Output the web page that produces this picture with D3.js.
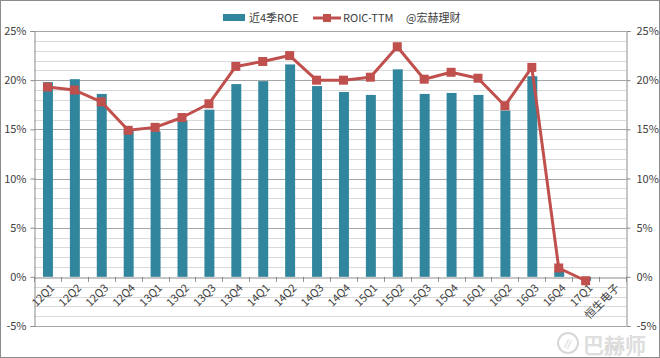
<!DOCTYPE html>
<html><head><meta charset="utf-8">
<script src="https://cdn.jsdelivr.net/npm/d3@7"></script>
<style>body{margin:0;background:#fff}svg{display:block}</style>
</head><body>
<svg id="c" width="660" height="358"></svg>
<script>
const categories = ["12Q1","12Q2","12Q3","12Q4","13Q1","13Q2","13Q3","13Q4","14Q1","14Q2","14Q3","14Q4","15Q1","15Q2","15Q3","15Q4","16Q1","16Q2","16Q3","16Q4","17Q1","恒生电子"];
const roe  = [19.8,20.1,18.6,15.0,14.8,15.9,17.0,19.6,19.9,21.6,19.4,18.8,18.5,21.1,18.6,18.7,18.5,16.9,20.4,0.6,-0.4,null];
const roic = [19.3,19.0,17.8,14.9,15.2,16.2,17.6,21.4,21.9,22.5,20.0,20.0,20.3,23.4,20.1,20.8,20.2,17.4,21.3,0.9,-0.4,null];
const yTicks = [-5,0,5,10,15,20,25];
const legendLabels = ["近4季ROE","ROIC-TTM","@宏赫理财"];

const FONT = "'Noto Sans CJK SC','Noto Sans',sans-serif";
const svg = d3.select("#c");
const L = 34, R = 626, T = 31, B = 326;
const x = d3.scaleBand().domain(categories).range([L, R]).padding(0);
const y = d3.scaleLinear().domain([-5, 25]).range([B, T]);

svg.append("rect").attr("x",0.5).attr("y",0.5).attr("width",659).attr("height",357)
  .attr("fill","#fff").attr("stroke","#8c8c8c");

// minor gridlines
const minor = d3.range(-5, 26, 1).filter(v => v % 5 !== 0);
svg.append("g").selectAll("line").data(minor).join("line")
  .attr("x1",L).attr("x2",R).attr("y1",d=>Math.round(y(d))+0.5).attr("y2",d=>Math.round(y(d))+0.5)
  .attr("stroke","#d9d9d9");
// major gridlines
svg.append("g").selectAll("line").data(yTicks.filter(v=>v!==0)).join("line")
  .attr("x1",L).attr("x2",R).attr("y1",d=>Math.round(y(d))+0.5).attr("y2",d=>Math.round(y(d))+0.5)
  .attr("stroke","#a6a6a6");

// left/right axes
const fmt = d => d + "%";
const la = svg.append("g").attr("transform",`translate(${L+0.5},0)`)
  .call(d3.axisLeft(y).tickValues(yTicks).tickFormat(fmt).tickSize(4).tickPadding(4));
const ra = svg.append("g").attr("transform",`translate(${R+0.5},0)`)
  .call(d3.axisRight(y).tickValues(yTicks).tickFormat(fmt).tickSize(4).tickPadding(6));
[la,ra].forEach(g=>{
  g.selectAll("path,line").attr("stroke","#8c8c8c");
  g.selectAll("text").attr("font-family",FONT).attr("font-size",11).attr("fill","#404040");
});

// bars
const bw = x.bandwidth()*0.37;
svg.append("g").selectAll("rect").data(categories.map((c,i)=>({c,v:roe[i]})).filter(d=>d.v!==null)).join("rect")
  .attr("x",d=>x(d.c)+x.bandwidth()/2-bw/2+0.5).attr("width",bw)
  .attr("y",d=>y(Math.max(0,d.v))).attr("height",d=>Math.abs(y(d.v)-y(0)))
  .attr("fill","#31859c");

// x axis at 0
const xa = svg.append("g").attr("transform",`translate(0,${Math.round(y(0))+0.5})`)
  .call(d3.axisBottom(x).tickSize(0).tickFormat(""));
xa.select("path").attr("stroke","#8c8c8c");
const bounds = categories.map(c=>x(c)).concat([R]);
svg.append("g").selectAll("line").data(bounds).join("line")
  .attr("x1",d=>Math.round(d)+0.5).attr("x2",d=>Math.round(d)+0.5)
  .attr("y1",y(0)).attr("y2",y(0)+5).attr("stroke","#8c8c8c");
svg.append("g").selectAll("text").data(categories).join("text")
  .attr("transform",d=>`translate(${x(d)+x.bandwidth()/2+5},${y(0)+9}) rotate(-45)`)
  .attr("text-anchor","end").attr("dy","0.35em")
  .attr("font-family",FONT).attr("font-size",11).attr("fill","#404040").text(d=>d);

// line
const pts = categories.map((c,i)=>({c,v:roic[i]})).filter(d=>d.v!==null);
const line = d3.line().x(d=>x(d.c)+x.bandwidth()/2).y(d=>y(d.v));
svg.append("path").datum(pts).attr("d",line).attr("fill","none")
  .attr("stroke","#c0504d").attr("stroke-width",3).attr("stroke-linejoin","round");
svg.append("g").selectAll("rect").data(pts).join("rect")
  .attr("x",d=>x(d.c)+x.bandwidth()/2-4.5).attr("y",d=>y(d.v)-4.5)
  .attr("width",9).attr("height",9).attr("fill","#c0504d");

// legend
const lg = svg.append("g").attr("font-family",FONT).attr("font-size",11).attr("fill","#404040");
lg.append("rect").attr("x",223).attr("y",14).attr("width",22).attr("height",7).attr("fill","#31859c");
lg.append("text").attr("x",249).attr("y",18).attr("dy","0.35em").text(legendLabels[0]);
lg.append("line").attr("x1",313).attr("x2",341).attr("y1",18).attr("y2",18).attr("stroke","#c0504d").attr("stroke-width",3);
lg.append("rect").attr("x",323).attr("y",14).attr("width",8).attr("height",8).attr("fill","#c0504d");
lg.append("text").attr("x",343).attr("y",18).attr("dy","0.35em").text(legendLabels[1]);
lg.append("text").attr("x",406).attr("y",18).attr("dy","0.35em").text(legendLabels[2]);

// watermark
const wm = svg.append("g").attr("opacity",0.9);
wm.append("circle").attr("cx",568).attr("cy",343).attr("r",10).attr("fill","none").attr("stroke","#d4d4d4").attr("stroke-width",2);
wm.append("text").attr("x",568).attr("y",348).attr("text-anchor","middle").attr("font-family",FONT)
  .attr("font-size",13).attr("fill","#d4d4d4").text("∥");
wm.append("text").attr("x",583).attr("y",353).attr("font-family",FONT).attr("font-size",21)
  .attr("fill","#e4e4e4").attr("stroke","#cfcfcf").attr("stroke-width",0.6).text("巴赫师");
</script>
</body></html>
